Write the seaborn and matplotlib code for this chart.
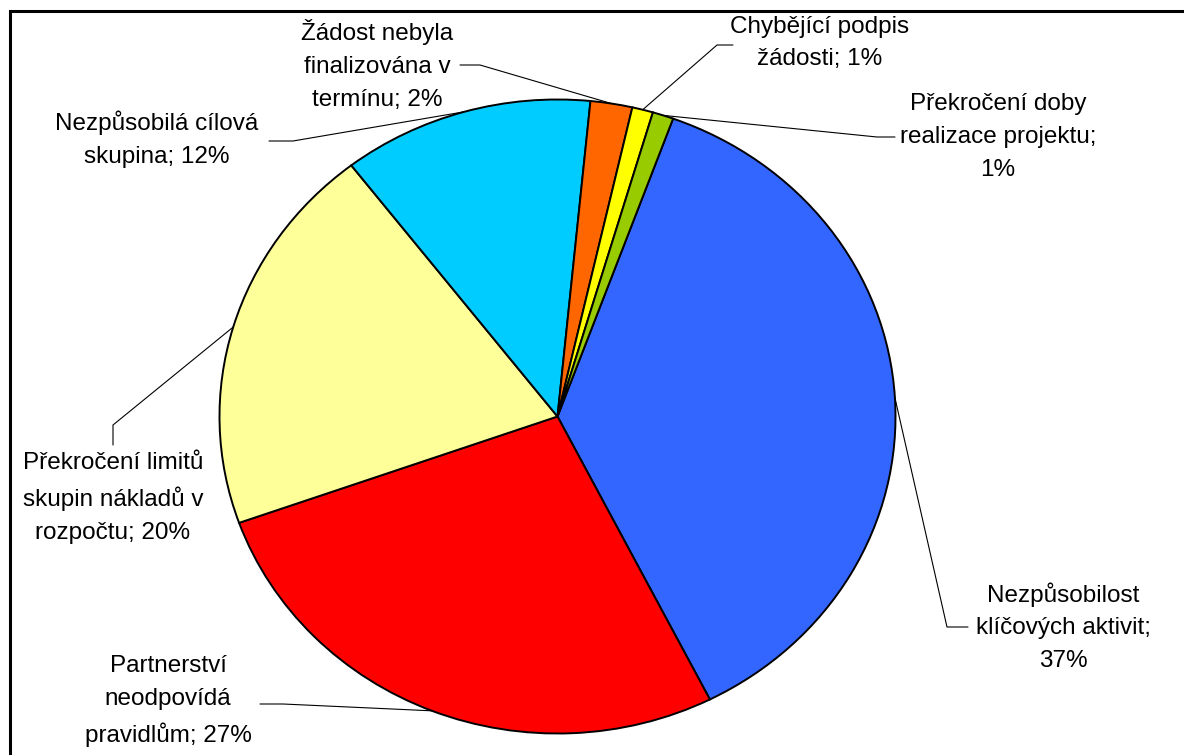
import numpy as np
import matplotlib
matplotlib.use("Agg")
import matplotlib.pyplot as plt
import seaborn as sns
from matplotlib.patches import Rectangle

# data (share of rejected applications, %)
categories = ["Nezpůsobilost klíčových aktivit", "Partnerství neodpovídá pravidlům",
              "Překročení limitů skupin nákladů v rozpočtu", "Nezpůsobilá cílová skupina",
              "Žádost nebyla finalizována v termínu", "Chybějící podpis žádosti",
              "Překročení doby realizace projektu"]
shares = [37, 27, 20, 12, 2, 1, 1]
label_texts = ["Nezpůsobilost\nklíčových aktivit;\n37%",
               "Partnerství\nneodpovídá\npravidlům; 27%",
               "Překročení limitů\nskupin nákladů v\nrozpočtu; 20%",
               "Nezpůsobilá cílová\nskupina; 12%",
               "Žádost nebyla\nfinalizována v\ntermínu; 2%",
               "Chybějící podpis\nžádosti; 1%",
               "Překročení doby\nrealizace projektu;\n1%"]
colors = ["#3366FF", "#FF0000", "#FFFF99", "#00CCFF", "#FF6600", "#FFFF00", "#99CC00"]

# layout (pixels of the 1184x755 image)
W, H = 1184, 755
CX, CY, RX, RY = 557.5, 416.5, 338, 317
label_pos = [(1063, 627), (168, 701), (113, 498), (157, 139), (377, 65), (820, 43), (998, 137)]
leader_end = [(968, 627), (260, 704), (113, 445), (269, 141), (460, 65), (733, 45), (895, 137)]
leader_elbow = [(947, 627), (283, 704), (113, 425), (293, 141), (480, 65), (717, 45), (877, 137)]


def to_data(px, py):
    return (px - CX) / RX, (CY - py) / RY


sns.set_theme(style="white")
plt.rcParams['font.family'] = ['Liberation Sans', 'DejaVu Sans']

fig = plt.figure(figsize=(W / 100, H / 100), dpi=100)
ax = fig.add_axes([0, 0, 1, 1])
wedges, _ = ax.pie(shares, colors=colors, startangle=70, counterclock=False, radius=1,
                   wedgeprops=dict(edgecolor='black', linewidth=1.4))
ax.set_aspect('auto')
ax.set_xlim(to_data(0, 0)[0], to_data(W, 0)[0])
ax.set_ylim(to_data(0, H)[1], to_data(0, 0)[1])
ax.axis('off')

for w, txt, pos, end, elbow in zip(wedges, label_texts, label_pos, leader_end, leader_elbow):
    mid = np.deg2rad((w.theta1 + w.theta2) / 2)
    tip = (np.cos(mid), np.sin(mid))
    e = to_data(*end)
    b = to_data(*elbow)
    ax.plot([e[0], b[0], tip[0]], [e[1], b[1], tip[1]], color='black', lw=0.8, zorder=0.5)
    tx, ty = to_data(*pos)
    ax.text(tx, ty, txt, ha='center', va='center', fontsize=17.5, linespacing=1.62,
            multialignment='center', color='black')

fig.patches.append(Rectangle((9.5 / W, -0.1), 1.2, 1.1 - 11 / H, transform=fig.transFigure,
                             fill=False, edgecolor='black', linewidth=2.2, clip_on=False))

fig.savefig('out.png', dpi=100)
